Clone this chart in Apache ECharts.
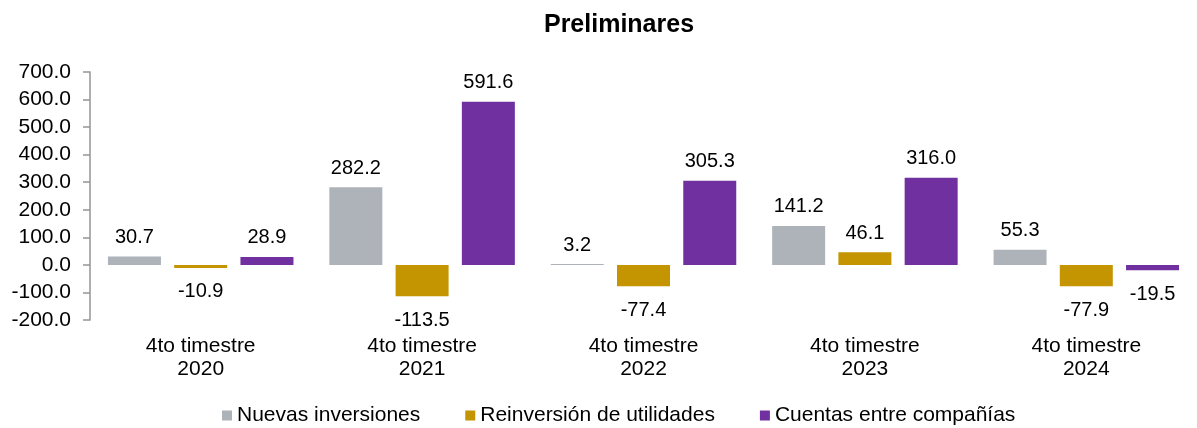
<!DOCTYPE html>
<html lang="es">
	<head>
		<meta charset="UTF-8" />
		<title>Preliminares</title>
		<style>
			html, body { margin: 0; padding: 0; background: #fff; }
			#chart { width: 1197px; height: 428px; }
		</style>
	</head>
	<body>
		<div id="chart"></div>
		<script src="https://cdn.jsdelivr.net/npm/echarts@6/dist/echarts.min.js"></script>
		<script>
			const categories = ["4to timestre\n2020", "4to timestre\n2021", "4to timestre\n2022", "4to timestre\n2023", "4to timestre\n2024"];
			const nuevas = [30.7, 282.2, 3.2, 141.2, 55.3];
			const reinversion = [-10.9, -113.5, -77.4, 46.1, -77.9];
			const cuentas = [28.9, 591.6, 305.3, 316.0, -19.5];
			const names = ["Nuevas inversiones", "Reinversión de utilidades", "Cuentas entre compañías"];
			const colors = ["#ADB3B9", "#C49500", "#7030A0"];

			const font = "Liberation Sans, Arial, sans-serif";

			// etiqueta arriba para positivos, abajo para negativos
			function withLabels(arr) {
				return arr.map(function (v) {
					return {
						value: v,
						label: v < 0 ? { position: "bottom", distance: 14 } : { position: "top", distance: 9 },
					};
				});
			}

			const chart = echarts.init(document.getElementById("chart"));
			const series = [nuevas, reinversion, cuentas].map(function (arr, i) {
				return {
					name: names[i],
					type: "bar",
					barWidth: 53,
					barGap: "25%",
					itemStyle: { color: colors[i] },
					label: {
						show: true,
						color: "#000",
						fontFamily: font,
						fontSize: 20,
						formatter: function (p) { return p.value.toFixed(1); },
					},
					data: withLabels(arr),
				};
			});

			chart.setOption({
				animation: false,
				title: {
					text: "Preliminares",
					left: 614,
					top: 8,
					textAlign: "center",
					textStyle: { fontFamily: font, fontSize: 25, fontWeight: "bold", color: "#000" },
				},
				legend: {
					left: 217,
					top: 400,
					icon: "rect",
					itemWidth: 10,
					itemHeight: 10,
					itemGap: 45,
					textStyle: { fontFamily: font, fontSize: 21, color: "#000" },
					data: names,
				},
				grid: { left: 90, top: 72, width: 1122, bottom: 108, containLabel: false },
				xAxis: {
					type: "category",
					data: categories,
					axisLine: { show: false, onZero: false },
					axisTick: { show: false },
					axisLabel: { color: "#000", fontFamily: font, fontSize: 21, margin: 15, lineHeight: 23 },
				},
				yAxis: {
					type: "value",
					min: -200,
					max: 700,
					interval: 100,
					splitLine: { show: false },
					axisLine: { show: true, lineStyle: { color: "#959595", width: 1.5 } },
					axisTick: { show: true, length: 7, lineStyle: { color: "#959595", width: 1.5 } },
					axisLabel: {
						color: "#000",
						fontFamily: font,
						fontSize: 21,
						margin: 19,
						formatter: function (v) { return v.toFixed(1); },
					},
				},
				series: series,
			});
		</script>
	</body>
</html>
